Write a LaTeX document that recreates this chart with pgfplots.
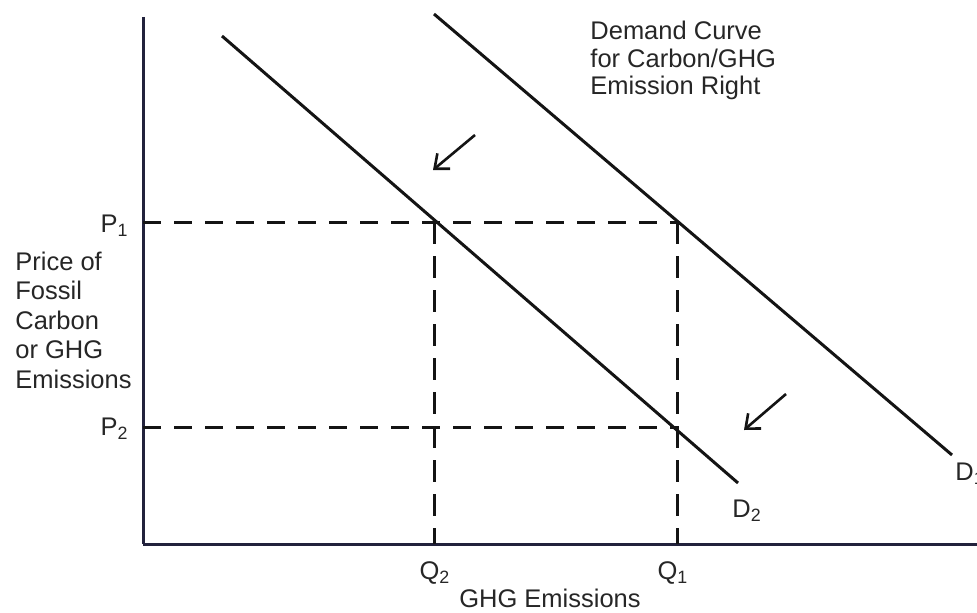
\documentclass[border=0pt]{standalone}
\usepackage{pgfplots}
\pgfplotsset{compat=1.18}
\usepackage{fontspec}
\setmainfont{Liberation Sans}
\usetikzlibrary{arrows.meta}
\definecolor{axcol}{HTML}{22223C}
\definecolor{ln}{HTML}{141414}
\tikzset{lbl/.style={font=\fontsize{12.75}{15}\selectfont, inner sep=0pt, text=black!85}}
\begin{document}
\begin{tikzpicture}
\begin{axis}[scale only axis, width=488.5pt, height=306pt,
  xmin=0, xmax=977, ymin=0, ymax=612,
  axis line style={draw=none}, ticks=none, clip=false]
% axes
\addplot[axcol, line width=1.5pt] coordinates {(143,595) (143,68)};
\addplot[axcol, line width=1.5pt] coordinates {(143,68) (977,68)};
% demand curves
\addplot[ln, line width=1.5pt] coordinates {(222,576) (738,129)};
\addplot[ln, line width=1.5pt] coordinates {(434,598) (952,157)};
% dashed guides
\addplot[ln, line width=1.5pt, dash pattern=on 9pt off 6.5pt] coordinates {(143,390) (677,390)};
\addplot[ln, line width=1.5pt, dash pattern=on 9pt off 6.5pt] coordinates {(143,185) (677,185)};
\addplot[ln, line width=1.5pt, dash pattern=on 11pt off 6pt] coordinates {(434,390) (434,68)};
\addplot[ln, line width=1.5pt, dash pattern=on 11pt off 6pt] coordinates {(677,390) (677,68)};
% arrows
\addplot[ln, line width=1.3pt, -{Straight Barb[length=6pt,width=10pt]}] coordinates {(475,477) (433,442)};
\addplot[ln, line width=1.3pt, -{Straight Barb[length=6pt,width=10pt]}] coordinates {(786,218) (744,182)};
% labels
\node[lbl, anchor=base east] at (axis cs:129,380) {P\textsubscript{1}};
\node[lbl, anchor=base east] at (axis cs:129,177) {P\textsubscript{2}};
\node[lbl, anchor=base west] at (axis cs:15,342) {Price of};
\node[lbl, anchor=base west] at (axis cs:15,312.5) {Fossil};
\node[lbl, anchor=base west] at (axis cs:15,283) {Carbon};
\node[lbl, anchor=base west] at (axis cs:15,253.5) {or GHG};
\node[lbl, anchor=base west] at (axis cs:15,224) {Emissions};
\node[lbl, anchor=base west] at (axis cs:590,572) {Demand Curve};
\node[lbl, anchor=base west] at (axis cs:590,545) {for Carbon/GHG};
\node[lbl, anchor=base west] at (axis cs:590,517) {Emission Right};
\node[lbl, anchor=base] at (axis cs:435,33) {Q\textsubscript{2}};
\node[lbl, anchor=base] at (axis cs:673,33) {Q\textsubscript{1}};
\node[lbl, anchor=base] at (axis cs:550,5) {GHG Emissions};
\node[lbl, anchor=base west] at (axis cs:732,95) {D\textsubscript{2}};
\node[lbl, anchor=base west] at (axis cs:955,132) {D\textsubscript{1}};
\end{axis}
\pgfresetboundingbox
\path[use as bounding box] (current axis.south west) rectangle (current axis.north east);
\end{tikzpicture}
\end{document}
